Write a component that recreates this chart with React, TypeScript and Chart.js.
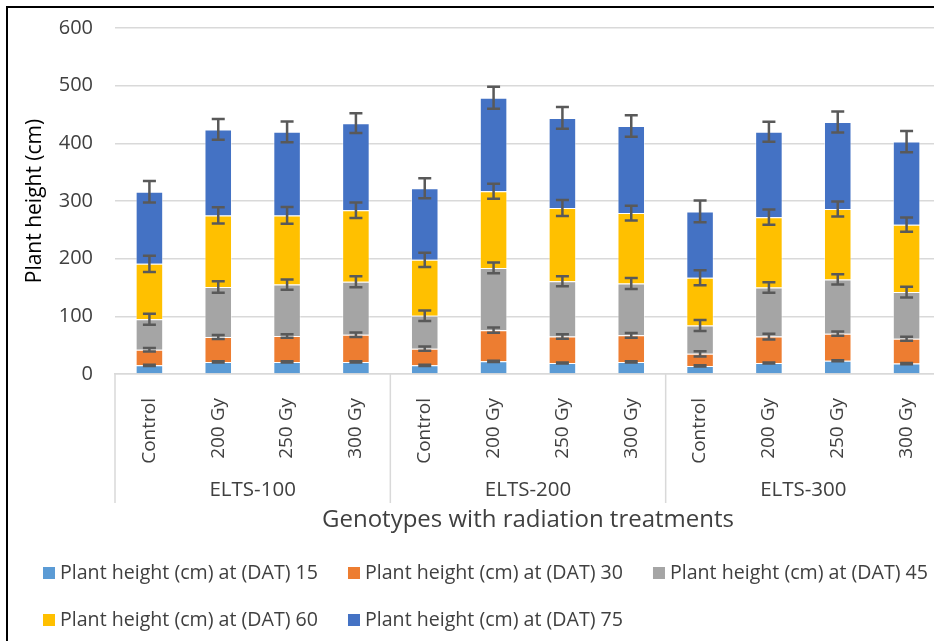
import React, { useEffect, useRef } from "react";
import { Chart, registerables } from "chart.js";

Chart.register(...registerables);

// ---------- data ----------
const categories = [
  "Control", "200 Gy", "250 Gy", "300 Gy",
  "Control", "200 Gy", "250 Gy", "300 Gy",
  "Control", "200 Gy", "250 Gy", "300 Gy",
];
const groups = ["ELTS-100", "ELTS-200", "ELTS-300"];
const seriesLabels = [
  "Plant height (cm) at (DAT) 15",
  "Plant height (cm) at (DAT) 30",
  "Plant height (cm) at (DAT) 45",
  "Plant height (cm) at (DAT) 60",
  "Plant height (cm) at (DAT) 75",
];
const dat15 = [15, 21, 21, 21, 15, 22, 19, 21, 14, 19, 23, 18];
const dat30 = [27, 43, 45, 47, 29, 54, 46, 46, 21, 46, 47, 43];
const dat45 = [53, 87, 89, 92, 57, 108, 96, 90, 49, 85, 94, 81];
const dat60 = [96, 124, 120, 124, 97, 133, 127, 122, 83, 122, 122, 117];
const dat75 = [125, 149, 145, 151, 124, 162, 156, 151, 115, 148, 151, 144];
const err15 = [1, 1, 1, 1, 1, 1, 1, 1, 1, 1, 1, 1];
const err30 = [3, 3.5, 3, 3.8, 3.8, 4.6, 3.8, 4, 4.6, 5, 3.8, 3.5];
const err45 = [9.6, 10, 9, 9.6, 9.2, 9.5, 8.7, 9.5, 9.6, 9, 9, 9.3];
const err60 = [14, 14, 14.5, 13.4, 12.4, 13, 13.9, 12.7, 13, 13.3, 13, 12.2];
const err75 = [18.6, 18, 18, 17, 17.3, 19, 18.8, 18.8, 18.8, 17.4, 18.3, 18.3];
const yAxisTitle = "Plant height (cm)";
const xAxisTitle = "Genotypes with radiation treatments";

const seriesValues = [dat15, dat30, dat45, dat60, dat75];
const seriesErrors = [err15, err30, err45, err60, err75];
const colors = ["#5B9BD5", "#ED7D31", "#A5A5A5", "#FFC000", "#4472C4"];

const FONT = "'Open Sans', sans-serif";
const TEXT = "#404040";
const GRID = "#d9d9d9";
const W = 960;
const H = 660;

const framePlugin = {
  id: "frame",
  beforeDraw(chart: any) {
    const ctx = chart.ctx;
    ctx.save();
    ctx.fillStyle = "#ffffff";
    ctx.fillRect(0, 0, chart.width, chart.height);
    ctx.strokeStyle = "#000000";
    ctx.lineWidth = 2;
    ctx.beginPath();
    ctx.moveTo(7, chart.height);
    ctx.lineTo(7, 7);
    ctx.lineTo(chart.width, 7);
    ctx.stroke();
    ctx.restore();
  },
};

const errorBarPlugin = {
  id: "errorBars",
  afterDatasetsDraw(chart: any) {
    const ctx = chart.ctx;
    const y = chart.scales.y;
    ctx.save();
    ctx.strokeStyle = "#595959";
    ctx.lineWidth = 2.5;
    seriesValues.forEach((vals, d) => {
      const meta = chart.getDatasetMeta(d);
      meta.data.forEach((bar: any, i: number) => {
        let cum = 0;
        for (let k = 0; k <= d; k++) cum += seriesValues[k][i];
        const e = seriesErrors[d][i];
        const yt = y.getPixelForValue(cum + e);
        const yb = y.getPixelForValue(cum - e);
        const x = bar.x;
        ctx.beginPath();
        ctx.moveTo(x, yt);
        ctx.lineTo(x, yb);
        ctx.moveTo(x - 6.5, yt);
        ctx.lineTo(x + 6.5, yt);
        ctx.moveTo(x - 6.5, yb);
        ctx.lineTo(x + 6.5, yb);
        ctx.stroke();
      });
    });
    ctx.restore();
  },
};

const groupLegendPlugin = {
  id: "groupsLegend",
  afterDraw(chart: any) {
    const ctx = chart.ctx;
    const xs = chart.scales.x;
    const n = categories.length;
    const catW = (xs.right - xs.left) / n;
    const per = n / groups.length;
    ctx.save();
    // group separators
    ctx.strokeStyle = GRID;
    ctx.lineWidth = 1.5;
    for (let k = 0; k <= groups.length; k++) {
      const x = xs.left + k * per * catW;
      ctx.beginPath();
      ctx.moveTo(x, xs.top);
      ctx.lineTo(x, 503);
      ctx.stroke();
    }
    // group labels
    ctx.fillStyle = TEXT;
    ctx.font = `20.5px ${FONT}`;
    ctx.textAlign = "center";
    ctx.textBaseline = "middle";
    groups.forEach((g, k) => {
      const x = xs.left + (k * per + per / 2) * catW;
      ctx.fillText(g, x, 490);
    });
    // legend
    ctx.font = `19.6px ${FONT}`;
    ctx.textAlign = "left";
    const rows = [[0, 1, 2], [3, 4]];
    const rowY = [573, 620];
    rows.forEach((row, r) => {
      let x = 43;
      row.forEach((idx) => {
        const ds = chart.data.datasets[idx];
        ctx.fillStyle = ds.backgroundColor;
        ctx.fillRect(x, rowY[r] - 6, 12, 12);
        ctx.fillStyle = TEXT;
        const tx = x + 17;
        ctx.fillText(ds.label, tx, rowY[r]);
        x = tx + ctx.measureText(ds.label).width + 30;
      });
    });
    ctx.restore();
  },
};

export default function App() {
  const ref = useRef<HTMLCanvasElement | null>(null);

  useEffect(() => {
    if (!ref.current) return;
    const chart = new Chart(ref.current, {
      type: "bar",
      data: {
        labels: categories,
        datasets: seriesValues.map((vals, d) => ({
          label: seriesLabels[d],
          data: vals,
          backgroundColor: colors[d],
          borderColor: "rgba(255,255,255,0.45)",
          borderWidth: 1,
          categoryPercentage: 0.4,
          barPercentage: 1,
        })),
      },
      options: {
        responsive: false,
        maintainAspectRatio: false,
        animation: false,
        layout: { padding: { left: 14, top: 28, right: 19, bottom: 125 } },
        plugins: {
          legend: { display: false },
          tooltip: { enabled: false },
        },
        scales: {
          x: {
            stacked: true,
            grid: { display: false },
            border: { display: true, color: GRID, width: 1.5 },
            ticks: {
              minRotation: 90,
              maxRotation: 90,
              autoSkip: false,
              padding: 16,
              color: TEXT,
              font: { size: 19, family: FONT },
            },
            title: {
              display: true,
              text: xAxisTitle,
              color: TEXT,
              font: { size: 24, family: FONT },
              padding: { top: 0, bottom: 0 },
            },
            afterFit: (s: any) => {
              s.height = 161;
            },
          },
          y: {
            stacked: true,
            min: 0,
            max: 600,
            grid: { color: GRID, lineWidth: 1.5, drawTicks: false },
            border: { display: false },
            ticks: {
              stepSize: 100,
              padding: 22,
              color: TEXT,
              font: { size: 20, family: FONT },
            },
            title: {
              display: true,
              text: yAxisTitle,
              color: "#000000",
              font: { size: 21, family: FONT },
              padding: { top: 8, bottom: 0 },
            },
            afterFit: (s: any) => {
              s.width = 101;
              s.paddingTop = 0;
              s.paddingBottom = 0;
            },
          },
        },
      },
      plugins: [framePlugin, errorBarPlugin, groupLegendPlugin],
    });
    return () => chart.destroy();
  }, []);

  return (
    <div style={{ position: "fixed", left: 0, top: 0, width: W, height: H }}>
      <canvas ref={ref} width={W} height={H} style={{ display: "block" }} />
    </div>
  );
}
